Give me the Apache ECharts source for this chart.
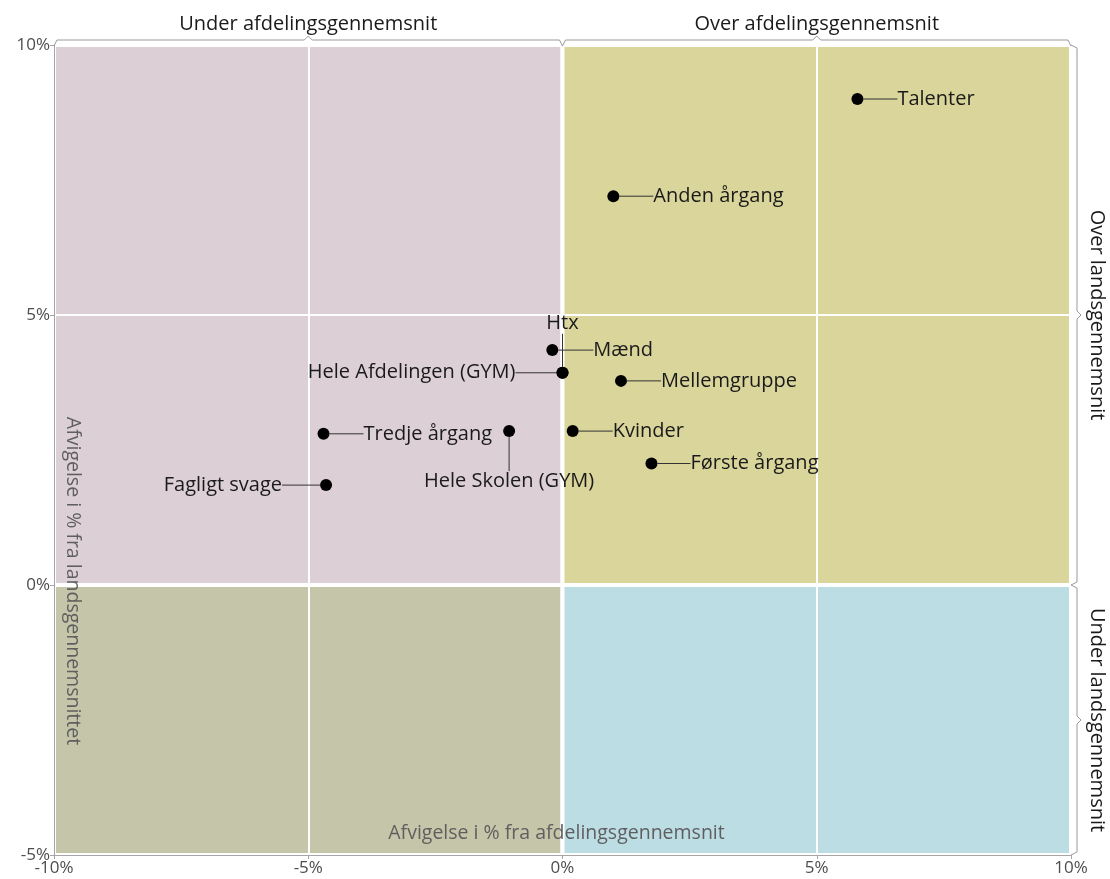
<!DOCTYPE html>
<html>
<head>
<meta charset="utf-8">
<script src="https://cdn.jsdelivr.net/npm/echarts@6/dist/echarts.min.js"></script>
<style>
  html, body { margin: 0; padding: 0; background: #fff; }
  #main { width: 1110px; height: 879px; }
</style>
</head>
<body>
<div id="main"></div>
<script>
  // data (percent deviation)
  var names = ['Talenter', 'Anden årgang', 'Htx', 'Mænd', 'Hele Afdelingen (GYM)', 'Mellemgruppe',
    'Tredje årgang', 'Hele Skolen (GYM)', 'Kvinder', 'Første årgang', 'Fagligt svage']
  var xVals = [5.8, 1.0, 0.0, -0.2, 0.0, 1.15, -4.7, -1.05, 0.2, 1.75, -4.65]
  var yVals = [9.0, 7.2, 3.93, 4.35, 3.93, 3.78, 2.8, 2.85, 2.85, 2.25, 1.85]

  var xMin = -10, xMax = 10, xStep = 5
  var yMin = -5, yMax = 10, yStep = 5
  var xSplit = 0, ySplit = 0
  var topGroups = ['Under afdelingsgennemsnit', 'Over afdelingsgennemsnit']
  var sideGroups = ['Over landsgennemsnit', 'Under landsgennemsnit']
  var xName = 'Afvigelse i % fra afdelingsgennemsnit'
  var yName = 'Afvigelse i % fra landsgennemsnittet'

  // where each label sits relative to its point
  var labelPos = {
    'Talenter': ['right', 29, 0],
    'Anden årgang': ['right', 29, 0],
    'Htx': ['top', 0, -28],
    'Mænd': ['right', 30, 0],
    'Hele Afdelingen (GYM)': ['left', -36, 0],
    'Mellemgruppe': ['right', 29, 0],
    'Tredje årgang': ['right', 29, 0],
    'Hele Skolen (GYM)': ['bottom', 0, 29],
    'Kvinder': ['right', 29, 0],
    'Første årgang': ['right', 28, 0],
    'Fagligt svage': ['left', -33, 0]
  }

  var font = '"Open Sans", "Noto Sans", sans-serif'
  var myChart = echarts.init(document.getElementById('main'))

  var points = names.map(function (n, i) {
    return {
      name: n,
      value: [xVals[i], yVals[i]],
      label: { position: labelPos[n][0] }
    }
  })

  var option = {
    animation: false,
    grid: { left: 54, right: 39, top: 45, bottom: 24, containLabel: false, outerBoundsMode: 'none' },
    xAxis: {
      type: 'value', min: xMin, max: xMax, interval: xStep, z: 3,
      axisLine: { show: true, onZero: false, lineStyle: { color: '#a6a6a6' } },
      axisTick: { show: true, length: 4, lineStyle: { color: '#a6a6a6' } },
      axisLabel: { color: '#4d4d4d', fontSize: 17, fontFamily: font, margin: 5, formatter: '{value}%' },
      splitLine: { show: true, lineStyle: { color: '#ffffff', width: 2 } }
    },
    yAxis: {
      type: 'value', min: yMin, max: yMax, interval: yStep, z: 3,
      axisLine: { show: true, onZero: false, lineStyle: { color: '#a6a6a6' } },
      axisTick: { show: true, length: 4, lineStyle: { color: '#a6a6a6' } },
      axisLabel: { color: '#4d4d4d', fontSize: 17, fontFamily: font, margin: 4, formatter: '{value}%' },
      splitLine: { show: true, lineStyle: { color: '#ffffff', width: 2 } }
    },
    series: [
      {
        type: 'scatter', z: 1, data: [], silent: true,
        markArea: {
          silent: true,
          data: [
            [{ coord: [xMin, ySplit], itemStyle: { color: '#dccfd6', borderColor: '#fff', borderWidth: 4 } }, { coord: [xSplit, yMax] }],
            [{ coord: [xSplit, ySplit], itemStyle: { color: '#d9d59b', borderColor: '#fff', borderWidth: 4 } }, { coord: [xMax, yMax] }],
            [{ coord: [xMin, yMin], itemStyle: { color: '#c5c6a9', borderColor: '#fff', borderWidth: 4 } }, { coord: [xSplit, ySplit] }],
            [{ coord: [xSplit, yMin], itemStyle: { color: '#bcdde4', borderColor: '#fff', borderWidth: 4 } }, { coord: [xMax, ySplit] }]
          ]
        }
      },
      {
        type: 'scatter', z: 10,
        symbolSize: 12,
        itemStyle: { color: '#000000', opacity: 1 },
        data: points,
        label: {
          show: true, formatter: '{b}', distance: 5,
          color: '#1a1a1a', fontSize: 20, fontFamily: font
        },
        labelLine: { show: true, lineStyle: { color: '#333333', width: 1 } },
        labelLayout: function (params) {
          var p = labelPos[names[params.dataIndex]]
          return { dx: p[1], dy: p[2] }
        }
      }
    ]
  }
  myChart.setOption(option)

  // braces, group titles and axis titles
  function px (x, y) { return myChart.convertToPixel({ gridIndex: 0 }, [x, y]) }
  var gTop = px(xMin, yMax)[1]
  var gRight = px(xMax, yMax)[0]
  var gBottom = px(xMin, yMin)[1]
  var braceStyle = { stroke: '#9a9a9a', lineWidth: 1, fill: null }
  var graphics = []
  var xs = [[xMin, xSplit], [xSplit, xMax]]
  xs.forEach(function (r, i) {
    var a = px(r[0], yMax)[0], b = px(r[1], yMax)[0], m = (a + b) / 2
    var y0 = gTop - 5
    graphics.push({
      type: 'polyline', silent: true, z: 20,
      shape: { points: [[a, gTop + 1], [a + 3, y0], [m - 4, y0], [m, y0 - 4], [m + 4, y0], [b - 3, y0], [b, gTop + 1]] },
      style: braceStyle
    })
    graphics.push({
      type: 'text', silent: true, z: 20, x: m, y: 24,
      style: { text: topGroups[i], fill: '#1a1a1a', font: '20px ' + font, align: 'center', verticalAlign: 'middle' }
    })
  })
  var ys = [[yMax, ySplit], [ySplit, yMin]]
  ys.forEach(function (r, i) {
    var a = px(xMax, r[0])[1], b = px(xMax, r[1])[1], m = (a + b) / 2
    var x0 = gRight + 6
    graphics.push({
      type: 'polyline', silent: true, z: 20,
      shape: { points: [[gRight, a], [x0, a + 3], [x0, m - 4], [x0 + 4, m], [x0, m + 4], [x0, b - 3], [gRight, b]] },
      style: braceStyle
    })
    graphics.push({
      type: 'text', silent: true, z: 20, x: 1097, y: m, rotation: -Math.PI / 2,
      style: { text: sideGroups[i], fill: '#1a1a1a', font: '20px ' + font, align: 'center', verticalAlign: 'middle' }
    })
  })
  var nameAt = px(xMin, ySplit)
  graphics.push({
    type: 'text', silent: true, z: 20, x: nameAt[0] + 19, y: nameAt[1] - 4, rotation: -Math.PI / 2,
    style: { text: yName, fill: '#5f5f5f', font: '19.5px ' + font, align: 'center', verticalAlign: 'middle' }
  })
  graphics.push({
    type: 'text', silent: true, z: 20, x: px(xSplit, yMin)[0] - 6, y: gBottom - 22,
    style: { text: xName, fill: '#5f5f5f', font: '19.5px ' + font, align: 'center', verticalAlign: 'middle' }
  })
  myChart.setOption({ graphic: graphics })
</script>
</body>
</html>
